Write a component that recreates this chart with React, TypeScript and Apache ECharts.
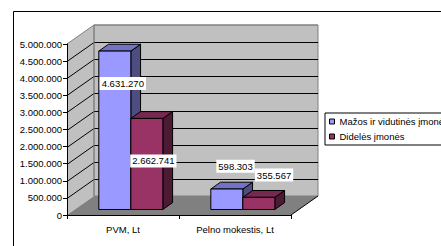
import React, { useEffect, useRef } from "react";
import * as echarts from "echarts";

// ---- data ----
const categories = ["PVM, Lt", "Pelno mokestis, Lt"];
const seriesNames = ["Mažos ir vidutinės įmonės", "Didelės įmonės"];
const smallMedium = [4631270, 598303];
const large = [2662741, 355567];
const yMin = 0;
const yMax = 5000000;
const yStep = 500000;

// ---- style ----
const FONT = "Liberation Sans, Arial, sans-serif";
const FS = 9.5;
const DX = 27; // depth offset in px
const DY = -19;
const F0 = 0.29; // bar front depth fraction
const F1 = 0.65; // bar back depth fraction
const BAR_FRAC = 0.286;
const COLORS = [
  { front: "#9999FF", top: "#7373C6", side: "#4D4D80" },
  { front: "#993366", top: "#772850", side: "#4C1A33" },
];
// label centre offsets from bar front-top centre (px)
const LABEL_OFFSETS = [
  [[8, 32.5], [8.7, -22.7]],
  [[6.5, 42.5], [15.2, -22.3]],
];

const fmt = (v: number) => String(v).replace(/\B(?=(\d{3})+(?!\d))/g, ".");

function wallsRender(params: any, api: any) {
  const cs = params.coordSys;
  const x0 = cs.x;
  const x1 = cs.x + cs.width;
  const y0 = api.coord([0, yMin])[1];
  const yT = api.coord([0, yMax])[1];
  const children: any[] = [];
  children.push({
    type: "polygon",
    shape: { points: [[x0, y0], [x0 + DX, y0 + DY], [x0 + DX, yT + DY], [x0, yT]] },
    style: { fill: "#C0C0C0", stroke: null },
  });
  children.push({
    type: "rect",
    shape: { x: x0 + DX, y: yT + DY, width: x1 - x0, height: y0 - yT },
    style: { fill: "#C0C0C0", stroke: "#808080", lineWidth: 1 },
  });
  children.push({
    type: "polygon",
    shape: { points: [[x0, y0], [x1, y0], [x1 + DX, y0 + DY], [x0 + DX, y0 + DY]] },
    style: { fill: "#808080", stroke: null },
  });
  for (let v = yMin + yStep; v < yMax; v += yStep) {
    const y = Math.round(api.coord([0, v])[1]) + 0.5;
    children.push({
      type: "polyline",
      shape: { points: [[x0, y], [x0 + DX, y + DY], [x1 + DX, y + DY]] },
      style: { fill: null, stroke: "#000", lineWidth: 1 },
    });
  }
  children.push({
    type: "polyline",
    shape: { points: [[x0, yT], [x0 + DX, yT + DY], [x1 + DX, yT + DY]] },
    style: { fill: null, stroke: "#808080", lineWidth: 1 },
  });
  children.push({
    type: "line",
    shape: { x1: x0 + DX, y1: yT + DY, x2: x0 + DX, y2: y0 + DY },
    style: { stroke: "#808080", lineWidth: 1 },
  });
  children.push({
    type: "line",
    shape: { x1: x1, y1: y0, x2: x1 + DX, y2: y0 + DY },
    style: { stroke: "#000", lineWidth: 1 },
  });
  return { type: "group", children };
}

function makeBarSeries(name: string, values: number[], sIdx: number) {
  const c = COLORS[sIdx];
  return {
    type: "custom",
    name,
    coordinateSystem: "cartesian2d",
    z: 4,
    itemStyle: { color: c.front },
    data: values.map((v, i) => [i, v]),
    renderItem: (params: any, api: any) => {
      const cat = api.value(0);
      const val = api.value(1);
      const base = api.coord([cat, 0]);
      const top = api.coord([cat, val]);
      const band = api.size([1, 0])[0];
      const w = band * BAR_FRAC;
      const fx = DX * F0;
      const fy = DY * F0;
      const bx = DX * (F1 - F0);
      const by = DY * (F1 - F0);
      const xl = base[0] + fx + (sIdx === 0 ? -w : 0);
      const xr = xl + w;
      const yb = base[1] + fy;
      const yt = top[1] + fy;
      const stroke = { stroke: "#000", lineWidth: 1 };
      const off = LABEL_OFFSETS[sIdx][params.dataIndex];
      return {
        type: "group",
        children: [
          {
            type: "polygon",
            shape: { points: [[xr, yt], [xr + bx, yt + by], [xr + bx, yb + by], [xr, yb]] },
            style: { fill: c.side, ...stroke },
          },
          {
            type: "polygon",
            shape: { points: [[xl, yt], [xr, yt], [xr + bx, yt + by], [xl + bx, yt + by]] },
            style: { fill: c.top, ...stroke },
          },
          {
            type: "rect",
            shape: { x: xl, y: yt, width: w, height: yb - yt },
            style: { fill: c.front, ...stroke },
          },
          {
            type: "text",
            z2: 50,
            style: {
              text: fmt(val),
              x: (xl + xr) / 2 + off[0],
              y: yt + off[1],
              align: "center",
              verticalAlign: "middle",
              fill: "#000",
              font: `${FS}px ${FONT}`,
              backgroundColor: "#fff",
              padding: [2, 2, 1, 2],
            },
          },
        ],
      };
    },
  };
}

export default function App() {
  const ref = useRef<HTMLDivElement>(null);
  useEffect(() => {
    if (!ref.current) return;
    const chart = echarts.init(ref.current, null, { renderer: "svg" });
    chart.setOption({
      animation: false,
      backgroundColor: "#fff",
      textStyle: { fontFamily: FONT },
      grid: { left: 67, top: 44, width: 224, height: 171 },
      legend: {
        data: seriesNames,
        orient: "vertical",
        left: 325,
        top: 113,
        borderColor: "#000",
        borderWidth: 1,
        borderRadius: 0,
        padding: [3, 40, 3, 4],
        itemGap: 4,
        itemWidth: 5,
        itemHeight: 5,
        icon: "rect",
        itemStyle: { borderColor: "#000", borderWidth: 1 },
        textStyle: { fontSize: FS, fontFamily: FONT, color: "#000", lineHeight: 11 },
      },
      xAxis: {
        type: "category",
        data: categories,
        boundaryGap: true,
        z: 3,
        axisLine: { show: true, lineStyle: { color: "#000", width: 1 } },
        axisTick: { show: true, length: 4, lineStyle: { color: "#000" } },
        axisLabel: { margin: 9, fontSize: FS, fontFamily: FONT, color: "#000" },
        splitLine: { show: false },
      },
      yAxis: {
        type: "value",
        min: yMin,
        max: yMax,
        interval: yStep,
        z: 3,
        axisLine: { show: true, lineStyle: { color: "#000", width: 1 } },
        axisTick: { show: true, length: 4, lineStyle: { color: "#000" } },
        axisLabel: { margin: 5, fontSize: FS, fontFamily: FONT, color: "#000", formatter: (v: number) => fmt(v) },
        splitLine: { show: false },
      },
      graphic: [
        {
          type: "rect",
          left: 11,
          top: 9,
          shape: { x: 0.5, y: 0.5, width: 520, height: 300 },
          style: { fill: null, stroke: "#000", lineWidth: 1 },
          silent: true,
        },
      ],
      series: [
        {
          type: "custom",
          name: "walls",
          coordinateSystem: "cartesian2d",
          z: 1,
          silent: true,
          data: [[0, 0]],
          renderItem: wallsRender,
        },
        makeBarSeries(seriesNames[0], smallMedium, 0),
        makeBarSeries(seriesNames[1], large, 1),
      ],
    });
    return () => chart.dispose();
  }, []);
  return (
    <div
      ref={ref}
      style={{ position: "absolute", left: 0, top: 0, width: 441, height: 246 }}
    />
  );
}
